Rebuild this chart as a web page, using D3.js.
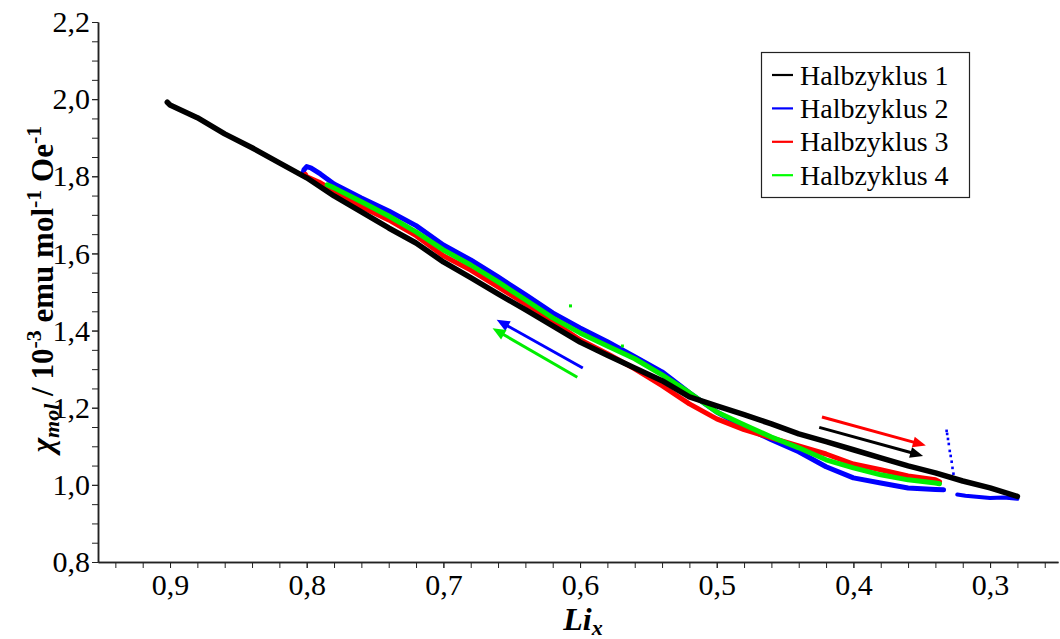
<!DOCTYPE html>
<html>
<head>
<meta charset="utf-8">
<script src="https://cdn.jsdelivr.net/npm/d3@7"></script>
<style>
  html, body { margin: 0; padding: 0; background: #fff; }
  svg { display: block; }
</style>
</head>
<body>
<svg id="chart" width="1060" height="639"></svg>
<script>
// ---- Data: molar susceptibility vs. lithium content, four half cycles ----

// Halbzyklus 1 (delithiation, 0.90 -> 0.28)
const li1  = [0.902, 0.90, 0.88, 0.86, 0.84, 0.82, 0.80, 0.78, 0.76, 0.74,
              0.72, 0.70, 0.68, 0.66, 0.64, 0.62, 0.60, 0.58, 0.56, 0.54,
              0.52, 0.50, 0.48, 0.46, 0.44, 0.42, 0.40, 0.38, 0.36, 0.34,
              0.32, 0.30, 0.28];
const chi1 = [1.992, 1.985, 1.952, 1.910, 1.874, 1.835, 1.796, 1.749, 1.708, 1.666,
              1.627, 1.578, 1.537, 1.495, 1.454, 1.412, 1.370, 1.336, 1.303, 1.270,
              1.228, 1.205, 1.182, 1.158, 1.132, 1.112, 1.091, 1.070, 1.049, 1.031,
              1.010, 0.992, 0.970];

// Halbzyklus 2 (lithiation, 0.28 -> 0.80): low start, short jump, main branch
const li2a  = [0.280, 0.290, 0.300, 0.310, 0.318, 0.324];
const chi2a = [0.964, 0.967, 0.966, 0.969, 0.972, 0.975];
const li2s  = [0.3318, 0.3314, 0.3308, 0.3302, 0.3295, 0.3288, 0.3281, 0.3275, 0.3268, 0.3262];
const chi2s = [1.140, 1.132, 1.119, 1.106, 1.088, 1.075, 1.060, 1.044, 1.029, 1.016];
const li2b  = [0.334, 0.34, 0.36, 0.38, 0.40, 0.42, 0.44, 0.46, 0.48, 0.50,
               0.52, 0.54, 0.56, 0.58, 0.60, 0.62, 0.64, 0.66, 0.68, 0.70,
               0.72, 0.74, 0.76, 0.78, 0.790, 0.797, 0.800, 0.802, 0.803];
const chi2b = [0.987, 0.988, 0.992, 1.005, 1.018, 1.047, 1.086, 1.117, 1.150, 1.189,
               1.239, 1.293, 1.332, 1.371, 1.407, 1.446, 1.493, 1.539, 1.583, 1.622,
               1.672, 1.710, 1.744, 1.780, 1.806, 1.822, 1.825, 1.817, 1.804];

// Halbzyklus 3 (delithiation, 0.80 -> 0.34)
const li3  = [0.801, 0.80, 0.79, 0.78, 0.76, 0.74, 0.72, 0.70, 0.68, 0.66,
              0.64, 0.62, 0.60, 0.58, 0.56, 0.54, 0.52, 0.50, 0.48, 0.46,
              0.44, 0.42, 0.40, 0.38, 0.36, 0.34, 0.337];
const chi3 = [1.805, 1.799, 1.783, 1.762, 1.721, 1.687, 1.646, 1.594, 1.557, 1.513,
              1.469, 1.423, 1.376, 1.340, 1.301, 1.257, 1.210, 1.171, 1.143, 1.122,
              1.101, 1.080, 1.054, 1.039, 1.023, 1.013, 1.008];

// Halbzyklus 4 (lithiation, 0.34 -> 0.785) plus two stray readings
const li4  = [0.337, 0.34, 0.36, 0.38, 0.40, 0.42, 0.44, 0.46, 0.48, 0.50,
              0.52, 0.54, 0.56, 0.58, 0.60, 0.62, 0.64, 0.66, 0.68, 0.70,
              0.72, 0.74, 0.76, 0.78, 0.785];
const chi4 = [1.003, 1.005, 1.013, 1.026, 1.044, 1.065, 1.096, 1.124, 1.156, 1.189,
              1.239, 1.285, 1.327, 1.360, 1.394, 1.433, 1.480, 1.526, 1.570, 1.609,
              1.656, 1.697, 1.734, 1.770, 1.778];
const li4x  = [0.607, 0.569];
const chi4x = [1.464, 1.360];

// Direction arrows: [Li, chi] of tail and tip
const arrowColors = ["#0000ff", "#00ee00", "#ff0000", "#000000"];
const arrowTail   = [[0.598, 1.303], [0.602, 1.279], [0.423, 1.176], [0.425, 1.149]];
const arrowTip    = [[0.661, 1.428], [0.664, 1.406], [0.347, 1.102], [0.349, 1.075]];

// Legend
const legendLabels = ["Halbzyklus 1", "Halbzyklus 2", "Halbzyklus 3", "Halbzyklus 4"];
const legendColors = ["#000000", "#0000ff", "#ff0000", "#00ff00"];

// Axis ticks
const xMajorTicks  = [0.9, 0.8, 0.7, 0.6, 0.5, 0.4, 0.3];
const xTickLabels  = ["0,9", "0,8", "0,7", "0,6", "0,5", "0,4", "0,3"];
const yMajorTicks  = [0.8, 1.0, 1.2, 1.4, 1.6, 1.8, 2.0, 2.2];
const yTickLabels  = ["0,8", "1,0", "1,2", "1,4", "1,6", "1,8", "2,0", "2,2"];

// ---- Drawing ----
const FONT = "'Liberation Serif','Times New Roman',serif";
const svg = d3.select("#chart");
svg.append("rect").attr("width", 1060).attr("height", 639).attr("fill", "#fff");

const x = d3.scaleLinear().domain([0.9527, 0.2503]).range([98, 1058]);
const y = d3.scaleLinear().domain([0.8, 2.2]).range([562, 22]);

const xMinorTicks = d3.range(26, 96, 2).map(v => v / 100);
const yMinorTicks = d3.range(16, 45, 1).map(v => v / 20);

function styleAxis(g) {
  g.attr("font-family", FONT).attr("font-size", 30);
  g.selectAll(".domain").attr("stroke", "#222").attr("stroke-width", 1.5);
  g.selectAll(".tick line").attr("stroke", "#222").attr("stroke-width", 1);
  g.selectAll(".tick text").attr("fill", "#000");
}

// x axis
const gx = svg.append("g").attr("transform", `translate(0,${y(0.8)})`);
gx.append("g").call(d3.axisBottom(x).tickValues(xMinorTicks).tickSize(6).tickSizeOuter(0).tickFormat("")).call(styleAxis);
gx.append("g").call(d3.axisBottom(x).tickValues(xMajorTicks).tickSize(6).tickSizeOuter(0).tickPadding(6)
  .tickFormat((d, i) => xTickLabels[i])).call(styleAxis);

// y axis
const gy = svg.append("g").attr("transform", `translate(${x(0.9527)},0)`);
gy.append("g").call(d3.axisLeft(y).tickValues(yMinorTicks).tickSize(6).tickSizeOuter(0).tickFormat("")).call(styleAxis);
gy.append("g").call(d3.axisLeft(y).tickValues(yMajorTicks).tickSize(6).tickSizeOuter(0).tickPadding(2)
  .tickFormat((d, i) => yTickLabels[i])).call(styleAxis);

// data bands
const line = d3.line().x(d => x(d[0])).y(d => y(d[1]));
const zip = (a, b) => a.map((v, i) => [v, b[i]]);
const plot = svg.append("g");

function band(li, chi, color, width) {
  plot.append("path").datum(zip(li, chi)).attr("d", line)
    .attr("fill", "none").attr("stroke", color).attr("stroke-width", width)
    .attr("stroke-linejoin", "round").attr("stroke-linecap", "round");
}
function dots(li, chi, color, size) {
  plot.selectAll(null).data(zip(li, chi)).enter().append("rect")
    .attr("x", d => x(d[0]) - size / 2).attr("y", d => y(d[1]) - size / 2)
    .attr("width", size).attr("height", size).attr("fill", color);
}

band(li2a, chi2a, "#0000ff", 4);
band(li2b, chi2b, "#0000ff", 5);
dots(li2s, chi2s, "#0000ff", 2.6);
band(li3, chi3, "#ff0000", 5);
band(li4, chi4, "#00ee00", 5);
dots(li4x, chi4x, "#00ee00", 3);
band(li1, chi1, "#000000", 5.5);

// arrows
const arrows = svg.append("g");
arrowTail.forEach((t, i) => {
  const x0 = x(t[0]), y0 = y(t[1]);
  const x1 = x(arrowTip[i][0]), y1 = y(arrowTip[i][1]);
  const len = Math.hypot(x1 - x0, y1 - y0);
  const ux = (x1 - x0) / len, uy = (y1 - y0) / len;
  const head = 13, half = 5.5;
  const bx = x1 - ux * head, by = y1 - uy * head;
  arrows.append("line").attr("x1", x0).attr("y1", y0).attr("x2", bx + ux * 2).attr("y2", by + uy * 2)
    .attr("stroke", arrowColors[i]).attr("stroke-width", 3);
  arrows.append("path")
    .attr("d", `M${x1},${y1}L${bx - uy * half},${by + ux * half}L${bx + uy * half},${by - ux * half}Z`)
    .attr("fill", arrowColors[i]);
});

// legend
const lg = svg.append("g").attr("font-family", FONT);
lg.append("rect").attr("x", 761.5).attr("y", 52.5).attr("width", 208).attr("height", 145)
  .attr("fill", "#fff").attr("stroke", "#222").attr("stroke-width", 1.2);
legendLabels.forEach((lab, i) => {
  const cy = 75 + i * 33.4;
  lg.append("line").attr("x1", 772).attr("x2", 793).attr("y1", cy).attr("y2", cy)
    .attr("stroke", legendColors[i]).attr("stroke-width", 2.2);
  lg.append("text").attr("x", 800).attr("y", cy + 9.5).attr("font-size", 28).attr("fill", "#000").text(lab);
});

// axis titles
const yt = svg.append("text").attr("transform", "translate(53,289) rotate(-90)")
  .attr("text-anchor", "middle").attr("font-family", FONT).attr("font-size", 31).attr("font-weight", "bold");
yt.append("tspan").attr("font-style", "italic").text("χ");
yt.append("tspan").attr("font-style", "italic").attr("font-size", 22).attr("dy", 6).text("mol");
yt.append("tspan").attr("dy", -6).text(" / 10");
yt.append("tspan").attr("font-size", 22).attr("dy", -12).text("-3");
yt.append("tspan").attr("dy", 12).text(" emu mol");
yt.append("tspan").attr("font-size", 22).attr("dy", -12).text("-1");
yt.append("tspan").attr("dy", 12).text(" Oe");
yt.append("tspan").attr("font-size", 22).attr("dy", -12).text("-1");

const xt = svg.append("text").attr("x", 583).attr("y", 630).attr("text-anchor", "middle")
  .attr("font-family", FONT).attr("font-size", 32).attr("font-weight", "bold").attr("font-style", "italic");
xt.append("tspan").text("Li");
xt.append("tspan").attr("font-size", 22).attr("dy", 5).text("x");
</script>
</body>
</html>
